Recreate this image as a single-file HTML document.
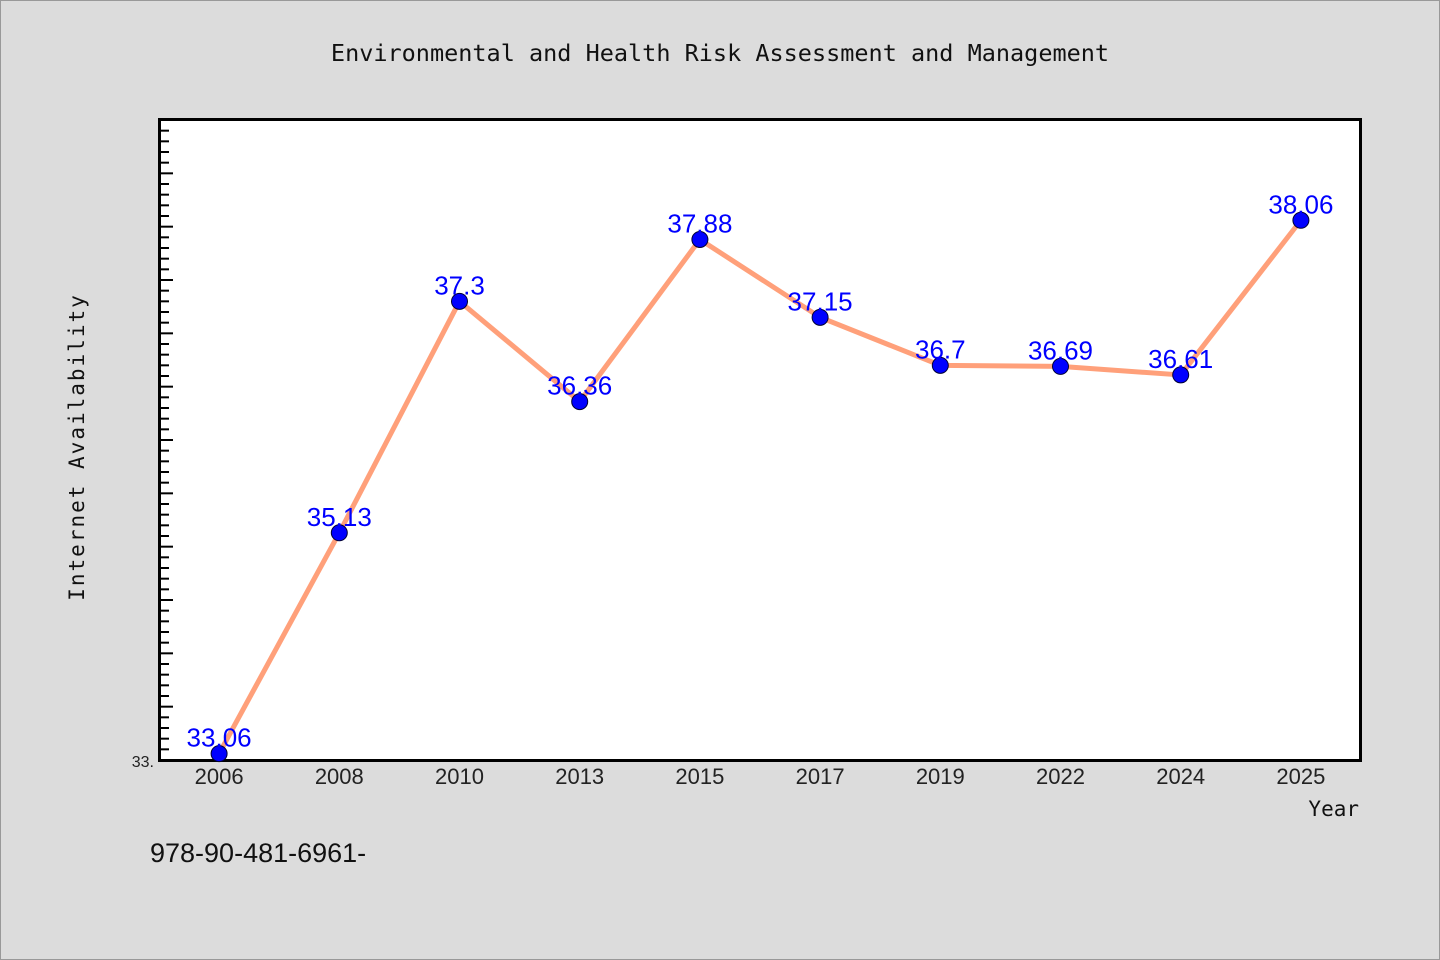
<!DOCTYPE html>
<html><head><meta charset="utf-8"><style>
html,body{margin:0;padding:0;background:#dcdcdc;}
svg{display:block;}
</style></head><body>
<svg id="chart" width="1440" height="960" xmlns="http://www.w3.org/2000/svg">
<rect x="0.5" y="0.5" width="1439" height="959" fill="#dcdcdc" stroke="#999"/>
<text x="720" y="61" text-anchor="middle" font-family="DejaVu Sans Mono, monospace" font-size="23.5" fill="#111">Environmental and Health Risk Assessment and Management</text>
<rect x="159.5" y="119.5" width="1201" height="641" fill="#fff" stroke="#000" stroke-width="3"/>
<g id="yticks"></g>
<g id="xlabels"></g>
<g id="series"></g>
<text transform="translate(84,447) rotate(-90)" text-anchor="middle" font-family="DejaVu Sans Mono, monospace" font-size="21" letter-spacing="2" fill="#111">Internet Availability</text>
<text x="1359" y="816" text-anchor="end" font-family="DejaVu Sans Mono, monospace" font-size="21" fill="#111">Year</text>
<text x="154" y="767" text-anchor="end" font-family="Liberation Sans, sans-serif" font-size="16" fill="#222">33.</text>
<text x="150" y="862" font-family="Liberation Sans, sans-serif" font-size="27" fill="#111">978-90-481-6961-</text>
</svg>
<script>
const categories = ["2006","2008","2010","2013","2015","2017","2019","2022","2024","2025"];
const values = [33.06,35.13,37.3,36.36,37.88,37.15,36.7,36.69,36.61,38.06];
const valueLabels = ["33.06","35.13","37.3","36.36","37.88","37.15","36.7","36.69","36.61","38.06"];
const yMin = 33, yMax = 39;
const NS="http://www.w3.org/2000/svg";
const L=159, R=1361, T=120, B=760;
const step=(R-L)/categories.length;
const x=i=>L+step*(i+0.5);
const y=v=>B-(v-yMin)/(yMax-yMin)*(B-T);
function mk(tag,attrs,parent){const e=document.createElementNS(NS,tag);for(const k in attrs)e.setAttribute(k,attrs[k]);parent.appendChild(e);return e;}
const yt=document.getElementById('yticks');
for(let k=1;k<=(yMax-yMin)*10;k++){
  const v=yMin+k*0.1; const yy=y(v);
  if(yy<T+2) continue;
  const major=k%5===0;
  const t=mk('line',{x1:161,x2:major?173:169,y1:yy,y2:yy,stroke:'#000','stroke-width':2},yt);
  
  
}
const xl=document.getElementById('xlabels');
categories.forEach((c,i)=>{
  const t=mk('text',{x:x(i),y:784,'text-anchor':'middle','font-family':'Liberation Sans, sans-serif','font-size':22,fill:'#222'},xl);
  t.textContent=c;
  
  
});
const s=document.getElementById('series');
const pl=mk('polyline',{points:values.map((v,i)=>x(i)+','+y(v)).join(' '),fill:'none',stroke:'#ffa07a','stroke-width':5,'stroke-linejoin':'round'},s);


values.forEach((v,i)=>{
  const c=mk('circle',{cx:x(i),cy:y(v),r:8,fill:'#0000ff',stroke:'#000033','stroke-width':1},s);
  
  
  const t=mk('text',{x:x(i),y:y(v)-7,'text-anchor':'middle','font-family':'Liberation Sans, sans-serif','font-size':26,fill:'#0000ff'},s);
  t.textContent=valueLabels[i];
  
  
});
</script>
</body></html>
